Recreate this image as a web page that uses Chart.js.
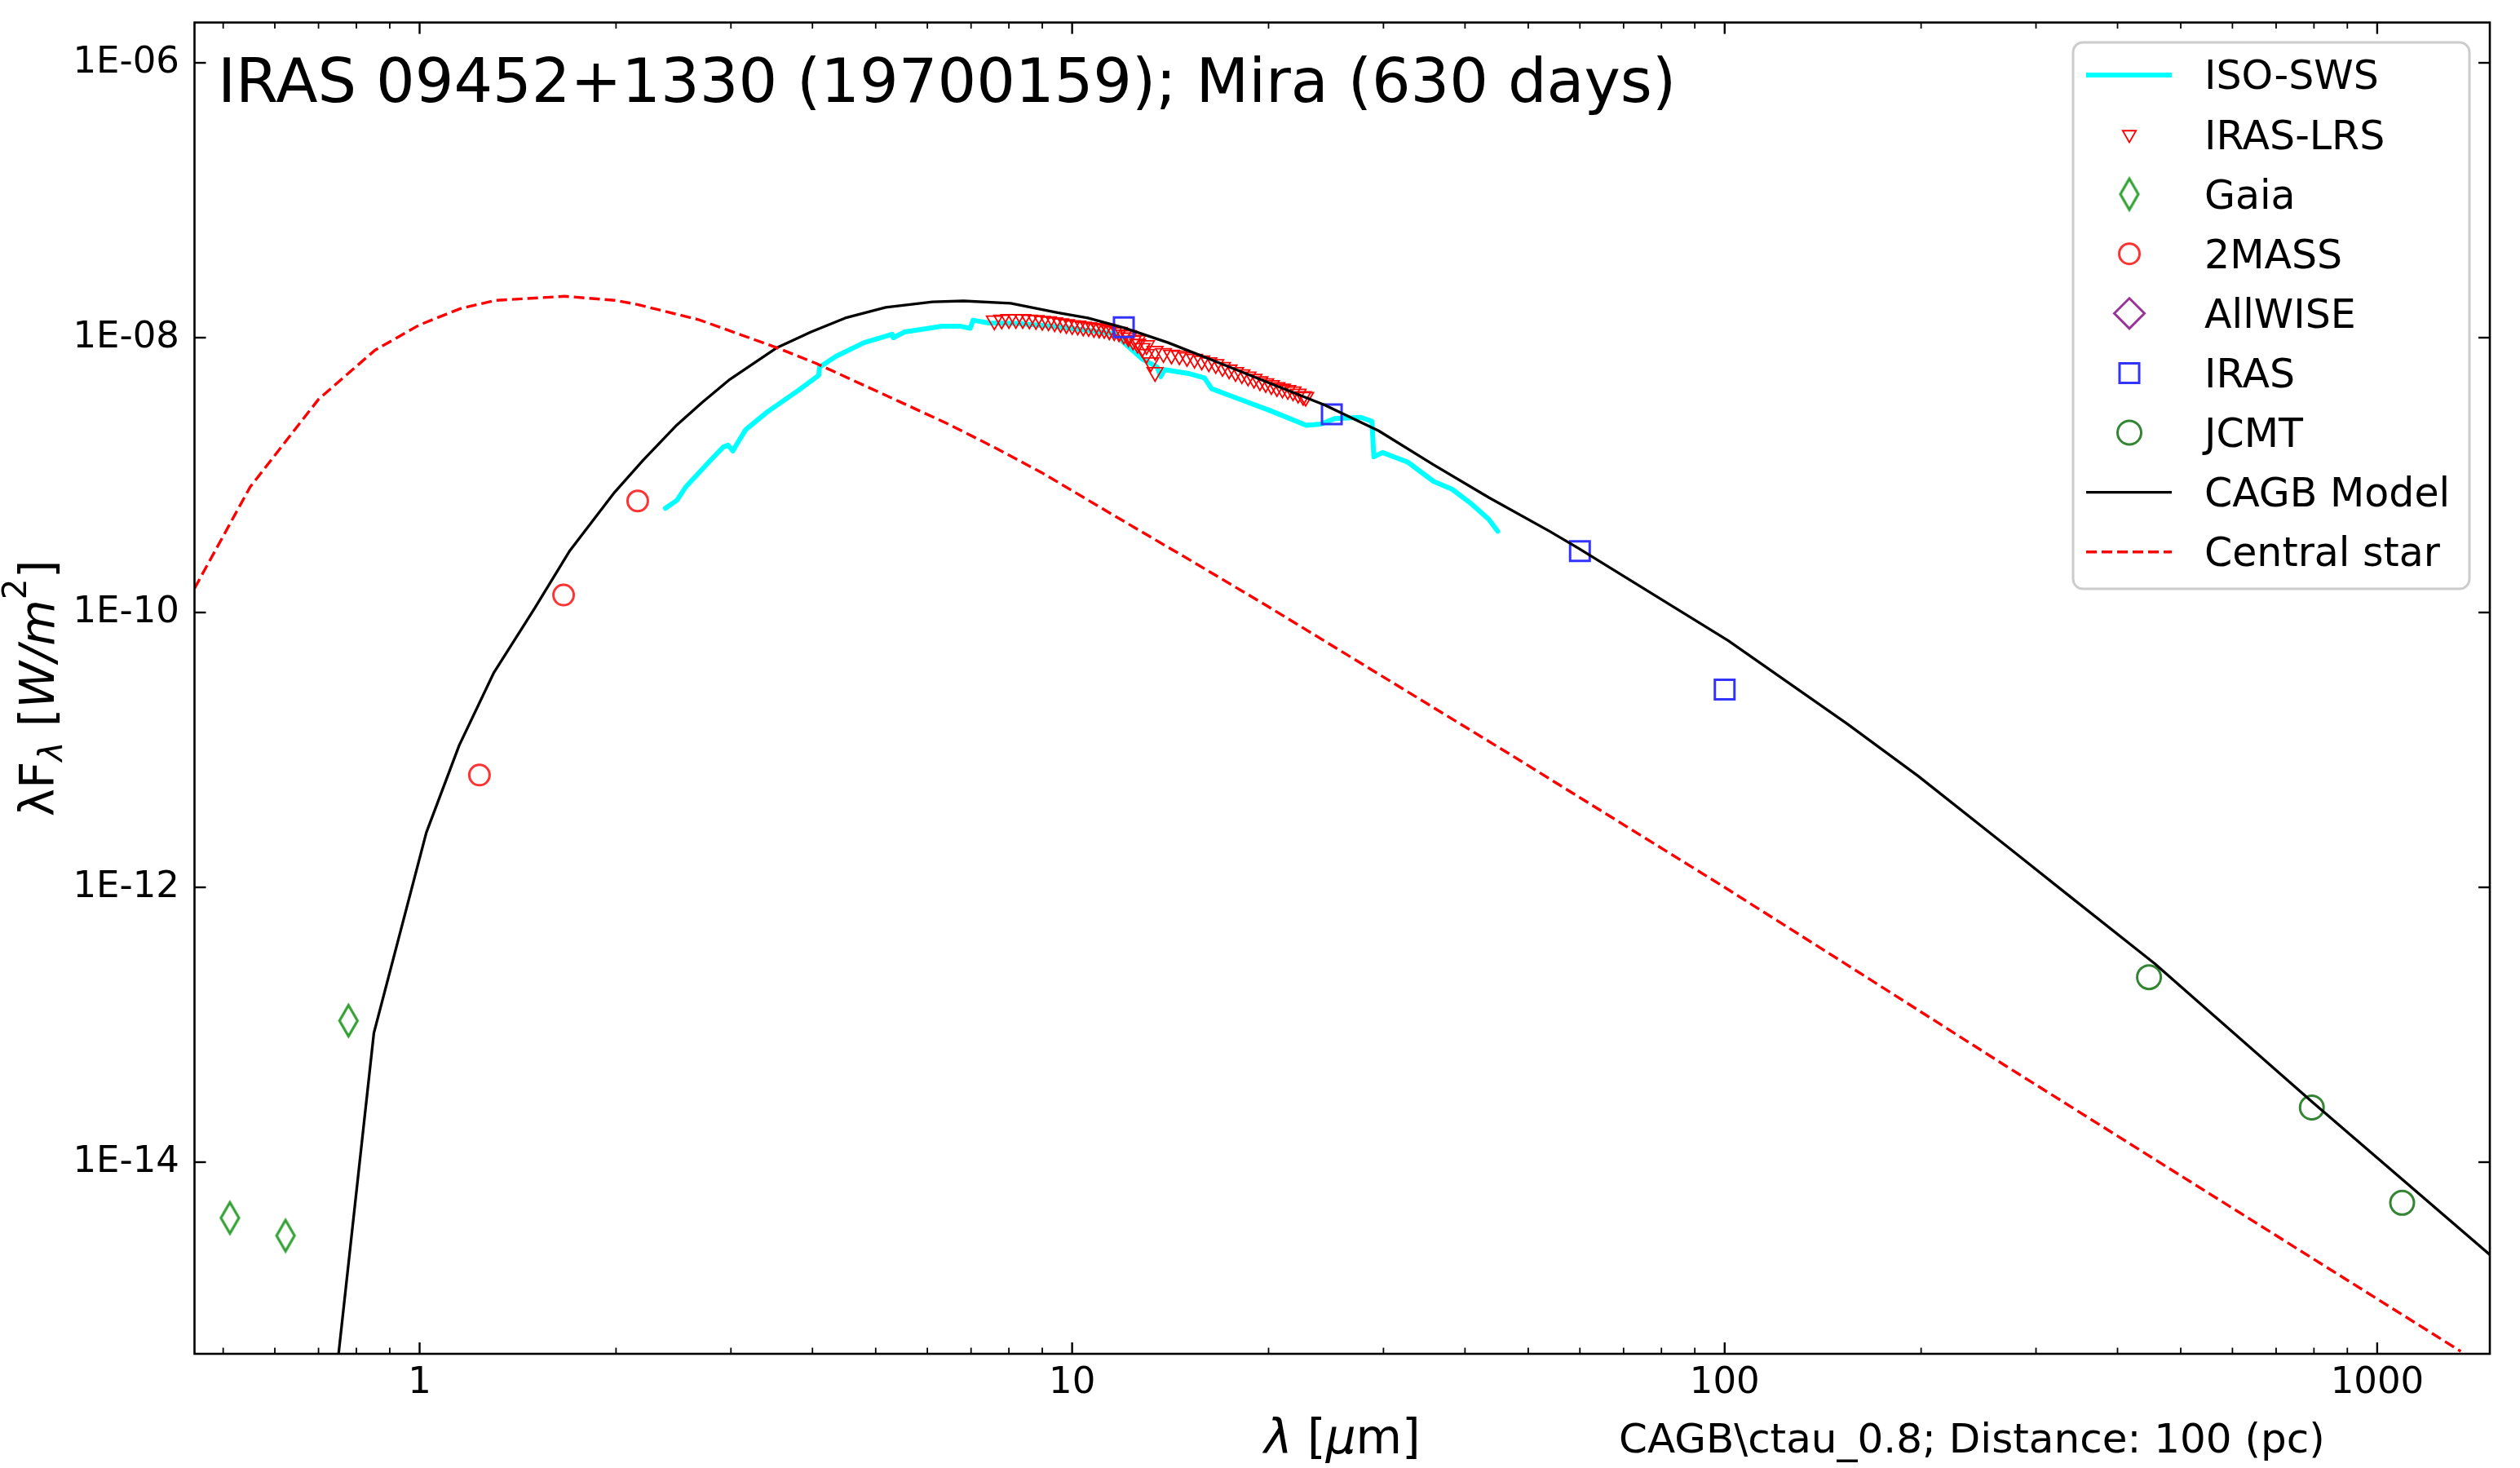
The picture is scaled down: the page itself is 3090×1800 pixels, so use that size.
<!DOCTYPE html>
<html><head><meta charset="utf-8">
<script src="https://cdn.jsdelivr.net/npm/chart.js@4/dist/chart.umd.min.js"></script>
<style>html,body{margin:0;padding:0;background:#fff;}canvas{display:block;}</style>
</head><body>
<canvas id="c" width="3090" height="1800"></canvas>
<script>
// ---------------- data ----------------
const TITLE = 'IRAS 09452+1330 (19700159); Mira (630 days)';
const NOTE = 'CAGB\\ctau_0.8; Distance: 100 (pc)';

const isoWave = [2.38, 2.48, 2.56, 2.80, 2.92, 2.97, 3.02, 3.07, 3.16, 3.41, 3.81, 4.09, 4.10, 4.35, 4.80, 5.30, 5.32, 5.54, 6.32, 6.75, 6.98, 7.05, 7.45, 8.18, 9.30, 10.57, 11.7, 12.0, 12.8, 13.5, 13.67, 13.85, 15.15, 15.95, 16.36, 17.68, 20.1, 22.85, 24.05, 25.3, 27.7, 28.8, 29.0, 29.9, 32.7, 35.8, 38.2, 40.7, 43.5, 44.9];
const isoFlux = [5.73e-10, 6.56e-10, 8.24e-10, 1.30e-9, 1.60e-9, 1.65e-9, 1.50e-9, 1.71e-9, 2.14e-9, 2.88e-9, 4.15e-9, 5.33e-9, 6.10e-9, 7.33e-9, 9.20e-9, 1.06e-8, 1.00e-8, 1.10e-8, 1.21e-8, 1.21e-8, 1.17e-8, 1.34e-8, 1.28e-8, 1.27e-8, 1.21e-8, 1.13e-8, 1.06e-8, 9.2e-9, 7.0e-9, 6.1e-9, 5.2e-9, 5.85e-9, 5.46e-9, 5.1e-9, 4.25e-9, 3.7e-9, 2.95e-9, 2.3e-9, 2.35e-9, 2.58e-9, 2.63e-9, 2.46e-9, 1.36e-9, 1.46e-9, 1.24e-9, 9.0e-10, 7.9e-10, 6.3e-10, 4.77e-10, 3.9e-10];

const lrsWave = [7.6, 7.8, 8.0, 8.2, 8.4, 8.6, 8.8, 9.0, 9.2, 9.4, 9.6, 9.8, 10.0, 10.2, 10.4, 10.6, 10.8, 11.0, 11.2, 11.4, 11.6, 11.8, 12.0, 12.2, 12.4, 12.6, 12.8, 13.0, 13.2, 13.4,
                 11.0, 11.4, 11.8, 12.2, 12.6, 13.0, 13.4, 13.8, 14.2, 14.6, 15.0, 15.4, 15.8, 16.2, 16.6, 17.0, 17.4, 17.8, 18.2, 18.6, 19.0, 19.4, 19.8, 20.2, 20.6, 21.0, 21.4, 21.8, 22.2, 22.6, 22.8];
const lrsFlux = [1.33e-8, 1.35e-8, 1.36e-8, 1.36e-8, 1.36e-8, 1.35e-8, 1.34e-8, 1.32e-8, 1.31e-8, 1.29e-8, 1.27e-8, 1.25e-8, 1.23e-8, 1.22e-8, 1.20e-8, 1.19e-8, 1.17e-8, 1.16e-8, 1.15e-8, 1.13e-8, 1.11e-8, 1.09e-8, 1.05e-8, 1.0e-8, 9.5e-9, 9.0e-9, 8.4e-9, 7.6e-9, 6.6e-9, 5.6e-9,
                 1.17e-8, 1.13e-8, 1.10e-8, 1.04e-8, 9.6e-9, 8.8e-9, 8.0e-9, 7.7e-9, 7.5e-9, 7.4e-9, 7.2e-9, 7.0e-9, 6.8e-9, 6.6e-9, 6.4e-9, 6.1e-9, 5.85e-9, 5.6e-9, 5.4e-9, 5.2e-9, 5.0e-9, 4.8e-9, 4.65e-9, 4.5e-9, 4.35e-9, 4.25e-9, 4.15e-9, 4.05e-9, 3.9e-9, 3.75e-9, 3.7e-9];

const gaiaWave = [0.512, 0.623, 0.778];
const gaiaFlux = [3.93e-15, 2.92e-15, 1.07e-13];
const tmassWave = [1.235, 1.662, 2.159];
const tmassFlux = [6.56e-12, 1.34e-10, 6.48e-10];
const wiseWave = [];
const wiseFlux = [];
const irasWave = [12, 25, 60, 100];
const irasFlux = [1.19e-8, 2.77e-9, 2.8e-10, 2.75e-11];
const jcmtWave = [447, 794, 1092];
const jcmtFlux = [2.22e-13, 2.5e-14, 5.06e-15];

const modelWave = [0.70, 0.851, 1.024, 1.15, 1.30, 1.50, 1.70, 1.99, 2.2, 2.48, 2.71, 2.99, 3.52, 3.98, 4.49, 5.18, 6.11, 6.82, 8.05, 9.5, 10.57, 12.0, 14.03, 16.6, 20.1, 24.4, 29.5, 35.8, 43.5, 53.9, 59.8, 101.2, 154, 198, 278, 339, 456, 796, 1488];
const modelFlux = [1.9e-17, 8.7e-14, 2.5e-12, 1.08e-11, 3.66e-11, 1.07e-10, 2.83e-10, 7.5e-10, 1.28e-9, 2.32e-9, 3.38e-9, 4.98e-9, 8.4e-9, 1.1e-8, 1.39e-8, 1.66e-8, 1.82e-8, 1.85e-8, 1.78e-8, 1.52e-8, 1.39e-8, 1.18e-8, 9.2e-9, 6.7e-9, 4.65e-9, 3.23e-9, 2.1e-9, 1.19e-9, 6.87e-10, 3.9e-10, 2.92e-10, 6.25e-11, 1.55e-11, 6.45e-12, 1.8e-12, 8.5e-13, 2.79e-13, 2.73e-14, 2.12e-15];

const starWave = [0.452, 0.55, 0.70, 0.854, 1.0, 1.16, 1.31, 1.67, 1.99, 2.15, 2.68, 3.54, 4.05, 5.47, 6.46, 7.62, 8.99, 11.7, 15.15, 20, 46.7, 100, 152, 270, 1343];
const starFlux = [1.5e-10, 8.2e-10, 3.56e-9, 8.1e-9, 1.24e-8, 1.64e-8, 1.87e-8, 2.0e-8, 1.87e-8, 1.75e-8, 1.35e-8, 8.4e-9, 6.5e-9, 3.38e-9, 2.35e-9, 1.58e-9, 1.04e-9, 4.95e-10, 2.41e-10, 1.1e-10, 9.4e-12, 1.0e-12, 2.84e-13, 5.0e-14, 4.2e-16];

const xMajorTicks = [1, 10, 100, 1000];
const xTickLabels = ['1', '10', '100', '1000'];
const xMinorTicks = [0.5, 0.6, 0.7, 0.8, 0.9, 2, 3, 4, 5, 6, 7, 8, 9, 20, 30, 40, 50, 60, 70, 80, 90, 200, 300, 400, 500, 600, 700, 800, 900];
const yTicks = [1e-14, 1e-12, 1e-10, 1e-8, 1e-6];
const yTickLabels = ['1E-14', '1E-12', '1E-10', '1E-08', '1E-06'];
const xMin = 0.4519, xMax = 1488, yMin = 4.03e-16, yMax = 1.965e-6;

// ---------------- helpers ----------------
const FONT = '"DejaVu Sans"';
const pts = (w, f) => w.map((v, i) => ({x: v, y: f[i]}));

function thinDiamond(color, hw, hh, lw) {
  const c = document.createElement('canvas');
  const pad = lw + 3;
  c.width = Math.ceil(2 * (hw + pad)); c.height = Math.ceil(2 * (hh + pad));
  const g = c.getContext('2d');
  g.strokeStyle = color; g.lineWidth = lw; g.lineJoin = 'miter';
  const cx = c.width / 2, cy = c.height / 2;
  g.beginPath(); g.moveTo(cx, cy - hh); g.lineTo(cx + hw, cy); g.lineTo(cx, cy + hh); g.lineTo(cx - hw, cy); g.closePath(); g.stroke();
  return c;
}
const gaiaMarker = thinDiamond('#33a033', 11, 19, 3.2);

function lineDS(label, w, f, color, width, dash, order) {
  return {label, data: pts(w, f), showLine: true, borderColor: color, borderWidth: width, borderDash: dash || [],
    pointRadius: 0, pointHoverRadius: 0, tension: 0, fill: false, order, borderJoinStyle: 'round', borderCapStyle: dash ? 'butt' : 'round', isLine: true};
}
function markDS(label, w, f, color, style, radius, bw, rotation, order) {
  return {label, data: pts(w, f), showLine: false, borderColor: color, backgroundColor: 'rgba(0,0,0,0)',
    pointStyle: style, pointRadius: radius, pointHoverRadius: radius, pointBorderWidth: bw, pointHoverBorderWidth: bw,
    pointBorderColor: color, pointBackgroundColor: 'rgba(0,0,0,0)', pointRotation: rotation || 0, order, isLine: false};
}

const datasets = [
  lineDS('ISO-SWS', isoWave, isoFlux, '#00ffff', 6, null, 9),
  markDS('IRAS-LRS', lrsWave, lrsFlux, '#ff0000', 'triangle', 11, 1.8, 180, 8),
  markDS('Gaia', gaiaWave, gaiaFlux, '#33a033', gaiaMarker, 18, 3, 0, 7),
  markDS('2MASS', tmassWave, tmassFlux, '#ff3333', 'circle', 12.5, 3, 0, 6),
  markDS('AllWISE', wiseWave, wiseFlux, '#993399', 'rectRot', 18.5, 3, 0, 5),
  markDS('IRAS', irasWave, irasFlux, '#3333ff', 'rect', 17, 3, 0, 4),
  markDS('JCMT', jcmtWave, jcmtFlux, '#338533', 'circle', 14.5, 3, 0, 3),
  lineDS('CAGB Model', modelWave, modelFlux, '#000000', 3.3, null, 2),
  lineDS('Central star', starWave, starFlux, '#ff0000', 3.4, [13, 6], 1)
];

// frame + inward ticks on all four sides
const frameTicks = {
  id: 'frameTicks',
  afterDatasetsDraw(chart) {
    const {ctx, chartArea: a, scales: {x, y}} = chart;
    ctx.save();
    ctx.strokeStyle = '#000';
    const seg = (x1, y1, x2, y2) => { ctx.beginPath(); ctx.moveTo(x1, y1); ctx.lineTo(x2, y2); ctx.stroke(); };
    ctx.lineWidth = 1.8;
    xMinorTicks.forEach(v => { const p = x.getPixelForValue(v); seg(p, a.bottom, p, a.bottom - 7.5); seg(p, a.top, p, a.top + 7.5); });
    ctx.lineWidth = 2.4;
    xMajorTicks.forEach(v => { const p = x.getPixelForValue(v); seg(p, a.bottom, p, a.bottom - 14); seg(p, a.top, p, a.top + 14); });
    yTicks.forEach(v => { const p = y.getPixelForValue(v); seg(a.left, p, a.left + 14, p); seg(a.right, p, a.right - 14, p); });
    ctx.lineWidth = 2.6;
    ctx.strokeRect(a.left, a.top, a.right - a.left, a.bottom - a.top);
    ctx.restore();
  }
};

function fontOf(p, size) { return (p.it ? 'italic ' : '') + (size * (p.s || 1)).toFixed(1) + 'px ' + FONT; }
function drawRich(ctx, parts, size, cx, base) {
  let w = 0;
  parts.forEach(p => { ctx.font = fontOf(p, size); w += ctx.measureText(p.t).width; });
  let xx = cx - w / 2;
  parts.forEach(p => { ctx.font = fontOf(p, size); ctx.fillText(p.t, xx, base + (p.dy || 0) * size); xx += ctx.measureText(p.t).width; });
}

const annotations = {
  id: 'annotations',
  afterDraw(chart) {
    const ctx = chart.ctx;
    ctx.save();
    ctx.fillStyle = '#000'; ctx.textBaseline = 'alphabetic'; ctx.textAlign = 'left';
    // title inside axes
    ctx.font = '75px ' + FONT;
    ctx.fillText(TITLE, 267, 125);
    // x label
    drawRich(ctx, [{t: 'λ', it: true}, {t: ' ['}, {t: 'μ', it: true}, {t: 'm'}, {t: ']'}], 58, 1646, 1782);
    // note
    ctx.font = '50px ' + FONT;
    ctx.fillText(NOTE, 1985, 1781);
    // y label (rotated)
    ctx.save();
    ctx.translate(66, 844);
    ctx.rotate(-Math.PI / 2);
    drawRich(ctx, [{t: 'λF'}, {t: 'λ', it: true, s: 0.7, dy: 0.18}, {t: ' ['}, {t: 'W/m', it: true}, {t: '2', s: 0.7, dy: -0.58}, {t: ']'}], 58, 0, 0);
    ctx.restore();

    // legend
    const L = {x: 2542, y: 52, w: 486, h: 670, r: 12};
    ctx.beginPath();
    ctx.roundRect(L.x, L.y, L.w, L.h, L.r);
    ctx.fillStyle = 'rgba(255,255,255,0.8)'; ctx.fill();
    ctx.lineWidth = 3; ctx.strokeStyle = '#cccccc'; ctx.stroke();
    const base0 = 109.4, step = 73.1, hx1 = 2558, hx2 = 2663, mx = 2611;
    chart.data.datasets.forEach((ds, i) => {
      const b = base0 + step * i, my = b - 17.5;
      if (ds.isLine) {
        ctx.save();
        ctx.strokeStyle = ds.borderColor; ctx.lineWidth = ds.borderWidth;
        ctx.setLineDash(ds.borderDash || []);
        ctx.lineCap = 'butt';
        ctx.beginPath(); ctx.moveTo(hx1, my); ctx.lineTo(hx2, my); ctx.stroke();
        ctx.restore();
      } else {
        ctx.save();
        ctx.strokeStyle = ds.pointBorderColor; ctx.fillStyle = 'rgba(0,0,0,0)'; ctx.lineWidth = ds.pointBorderWidth;
        const r = ds.label === 'IRAS-LRS' ? 9.5 : ds.pointRadius;
        Chart.helpers.drawPoint(ctx, {pointStyle: ds.pointStyle, radius: r, rotation: ds.pointRotation, borderWidth: ds.pointBorderWidth}, mx, my);
        ctx.restore();
      }
      ctx.fillStyle = '#000'; ctx.font = '49px ' + FONT; ctx.textAlign = 'left';
      ctx.fillText(ds.label, 2703, b);
    });
    ctx.restore();
  }
};

Chart.defaults.font.family = FONT;
Chart.defaults.color = '#000';

new Chart(document.getElementById('c'), {
  type: 'line',
  data: {datasets},
  options: {
    responsive: false, animation: false, devicePixelRatio: 1,
    layout: {padding: {top: 27.6, right: 37, left: 0, bottom: 0}},
    plugins: {legend: {display: false}, title: {display: false}, tooltip: {enabled: false}},
    events: [],
    scales: {
      x: {
        type: 'logarithmic', min: xMin, max: xMax, bounds: 'data',
        grid: {display: false, drawTicks: false}, border: {display: false},
        afterBuildTicks: s => { s.ticks = xMajorTicks.map(v => ({value: v, major: true})); },
        afterFit: s => { s.height = 140; s.paddingLeft = 0; s.paddingRight = 0; },
        ticks: {autoSkip: false, maxRotation: 0, minRotation: 0, padding: 9, font: {size: 45},
          callback: (v) => { const i = xMajorTicks.indexOf(v); return i >= 0 ? xTickLabels[i] : ''; }}
      },
      y: {
        type: 'logarithmic', min: yMin, max: yMax, bounds: 'data',
        grid: {display: false, drawTicks: false}, border: {display: false},
        afterBuildTicks: s => { s.ticks = yTicks.map(v => ({value: v, major: true})); },
        afterFit: s => { s.width = 238.5; s.paddingTop = 0; s.paddingBottom = 0; },
        ticks: {autoSkip: false, padding: 18.5, font: {size: 45},
          callback: (v) => { const i = yTicks.findIndex(t => Math.abs(Math.log10(t) - Math.log10(v)) < 1e-6); return i >= 0 ? yTickLabels[i] : ''; }}
      }
    }
  },
  plugins: [frameTicks, annotations]
});
</script>
</body></html>
